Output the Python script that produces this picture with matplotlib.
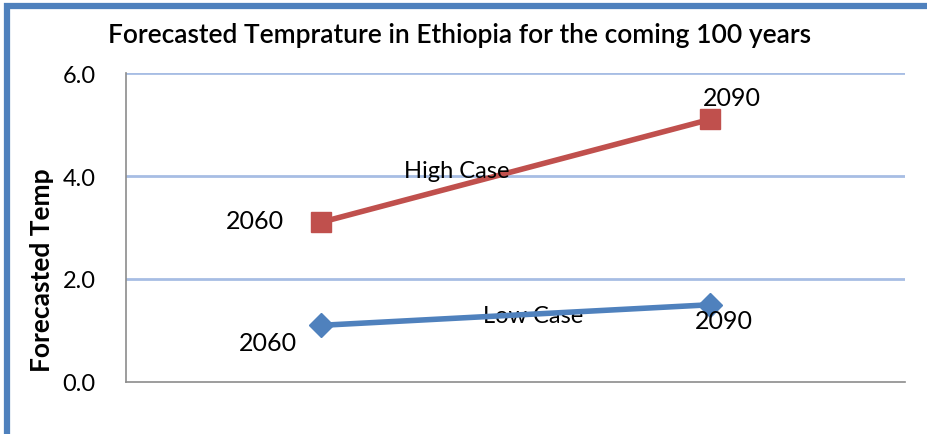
import matplotlib
matplotlib.use("Agg")
import matplotlib.pyplot as plt
from matplotlib.lines import Line2D

plt.rcParams['font.family'] = ['Lato', 'DejaVu Sans']

# Data
years = ["2060", "2090"]
high_case = [3.1, 5.1]
low_case = [1.1, 1.5]
y_ticks = [0.0, 2.0, 4.0, 6.0]

RED = "#C0504D"
BLUE = "#4F81BD"
GRID = "#A7BDE4"

W, H = 928, 435
fig = plt.figure(figsize=(W / 100, H / 100), dpi=100)
fig.patch.set_facecolor("white")

# plot area in pixel coordinates
left, right, top, bottom = 126, 905, 74, 383
ax = fig.add_axes([left / W, 1 - bottom / H, (right - left) / W, (bottom - top) / H])

x = [0.5, 1.5]
ax.set_xlim(0, 2)
ax.set_ylim(0, 6)

ax.plot(x, high_case, color=RED, lw=4.0, marker="s", ms=15, zorder=3,
        solid_capstyle="butt")
ax.plot(x, low_case, color=BLUE, lw=4.0, marker="D", ms=12, zorder=3,
        solid_capstyle="butt")

# gridlines
for t in y_ticks[1:]:
    ax.axhline(t, color=GRID, lw=2.0, zorder=1)

ax.set_yticks(y_ticks)
ax.set_yticklabels([f"{t:.1f}" for t in y_ticks], fontsize=17)
ax.tick_params(axis="y", length=0, pad=22)
ax.set_xticks([])

for s in ["top", "right"]:
    ax.spines[s].set_visible(False)
ax.spines["left"].set_color("#8C8C8C")
ax.spines["bottom"].set_color("#8C8C8C")
ax.spines["left"].set_linewidth(1.2)
ax.spines["bottom"].set_linewidth(1.2)

# data labels
label_kw = dict(textcoords="offset points", ha="center", va="center", fontsize=18)
ax.annotate(years[0], (x[0], high_case[0]), xytext=(-47.5, 1.4), **label_kw)
ax.annotate(years[1], (x[1], high_case[1]), xytext=(15.8, 15.8), **label_kw)
ax.annotate(years[0], (x[0], low_case[0]), xytext=(-38, -12), **label_kw)
ax.annotate(years[1], (x[1], low_case[1]), xytext=(10, -11), **label_kw)

# series names
ax.text(0.85, 4.10, "High Case", fontsize=17, ha="center", va="center", zorder=4)
ax.text(1.045, 1.30, "Low Case", fontsize=17, ha="center", va="center", zorder=2)

ax.set_ylabel("Forecasted Temp", fontsize=19, fontweight="bold")
ax.yaxis.set_label_coords((54 - left) / (right - left), (bottom - 270) / (bottom - top))

fig.text(460 / W, 1 - 35 / H, "Forecasted Temprature in Ethiopia for the coming 100 years",
         ha="center", va="center", fontsize=19, fontweight="semibold")

# outer frame (left and top edges)
fx, fy = 7 / W, 1 - 7 / H
fig.lines.append(Line2D([fx, fx, 1.0], [0.0, fy, fy], transform=fig.transFigure,
                        color=BLUE, lw=4.5, solid_joinstyle="miter", zorder=0))

fig.savefig("out.png", dpi=100, facecolor="white")
